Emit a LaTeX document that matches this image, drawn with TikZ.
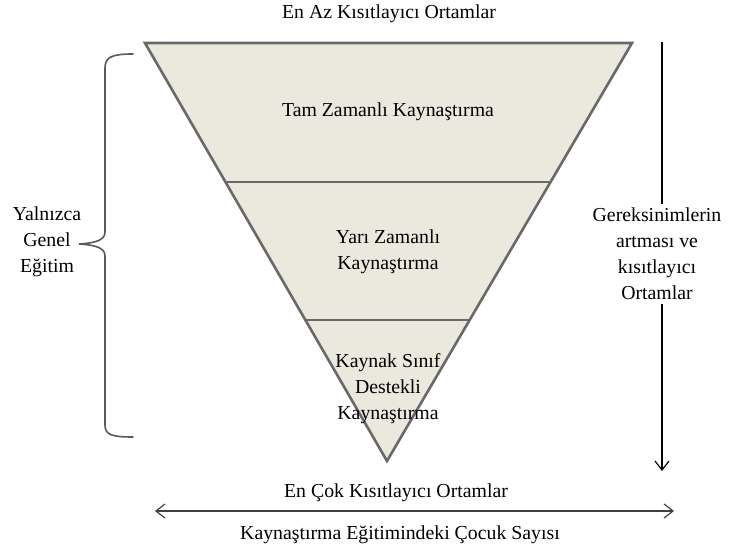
\documentclass[tikz,border=0pt]{standalone}
\usepackage{fontspec}
\setmainfont{Liberation Serif}
\usetikzlibrary{arrows.meta}
\definecolor{tri}{RGB}{235,232,221}
\definecolor{triedge}{RGB}{105,105,105}
\tikzset{
  lbl/.style={font=\fontsize{19.8}{26}\selectfont, align=center, inner sep=0pt, text=black},
  tip/.tip={Straight Barb[length=9pt,width=14pt,line width=1.2pt]},
  arr/.style={line width=1.1pt, -tip},
  brace/.style={line width=1.6pt, draw=black!65, line cap=round}
}
\begin{document}
\begin{tikzpicture}[x=1pt,y=-1pt]
\useasboundingbox (0,0) rectangle (732,554);
% triangle
\coordinate (tl) at (145,43);
\coordinate (tr) at (632,43);
\coordinate (ap) at (387,461);
\filldraw[fill=tri, draw=triedge, line width=2.6pt, line join=miter] (tl) -- (tr) -- (ap) -- cycle;
\coordinate (l1a) at (226,182); \coordinate (l1b) at (551,182);
\coordinate (l2a) at (305,320); \coordinate (l2b) at (470,320);
\draw[triedge, line width=2.6pt] (l1a) -- (l1b);
\draw[triedge, line width=2.6pt] (l2a) -- (l2b);
% arrows
\coordinate (va) at (662,42);
\coordinate (vb) at (662,471);
\draw[arr] (va) -- (vb);
\coordinate (hl) at (155,511);
\coordinate (hr) at (674,511);
\draw[line width=1.1pt, black!75, tip-tip] (hl) -- (hr);
% texts
\node[lbl] (top) at (389,14) {En Az Kısıtlayıcı Ortamlar};
\node[lbl] (s1) at (388,112) {Tam Zamanlı Kaynaştırma};
\node[lbl] (s2) at (388,252) {Yarı Zamanlı\\Kaynaştırma};
\node[lbl] (s3) at (388,389) {Kaynak Sınıf\\Destekli\\Kaynaştırma};
\node[lbl] (left) at (47,242) {Yalnızca\\Genel\\Eğitim};
\node[lbl, fill=white, inner xsep=2pt, inner ysep=4pt] (right) at (657,254) {Gereksinimlerin\\artması ve\\kısıtlayıcı\\Ortamlar};
\node[lbl] (bot) at (396,493) {En Çok Kısıtlayıcı Ortamlar};
\node[lbl] (count) at (400,535) {Kaynaştırma Eğitimindeki Çocuk Sayısı};
% brace
\draw[brace] (133,54) .. controls (112,54) and (105,57) .. (105,68) -- (105,232)
  .. controls (105,240) and (96,243) .. (79,244)
  .. controls (96,245) and (105,248) .. (105,256) -- (105,425)
  .. controls (105,435) and (112,437) .. (133,437);
\end{tikzpicture}
\end{document}
